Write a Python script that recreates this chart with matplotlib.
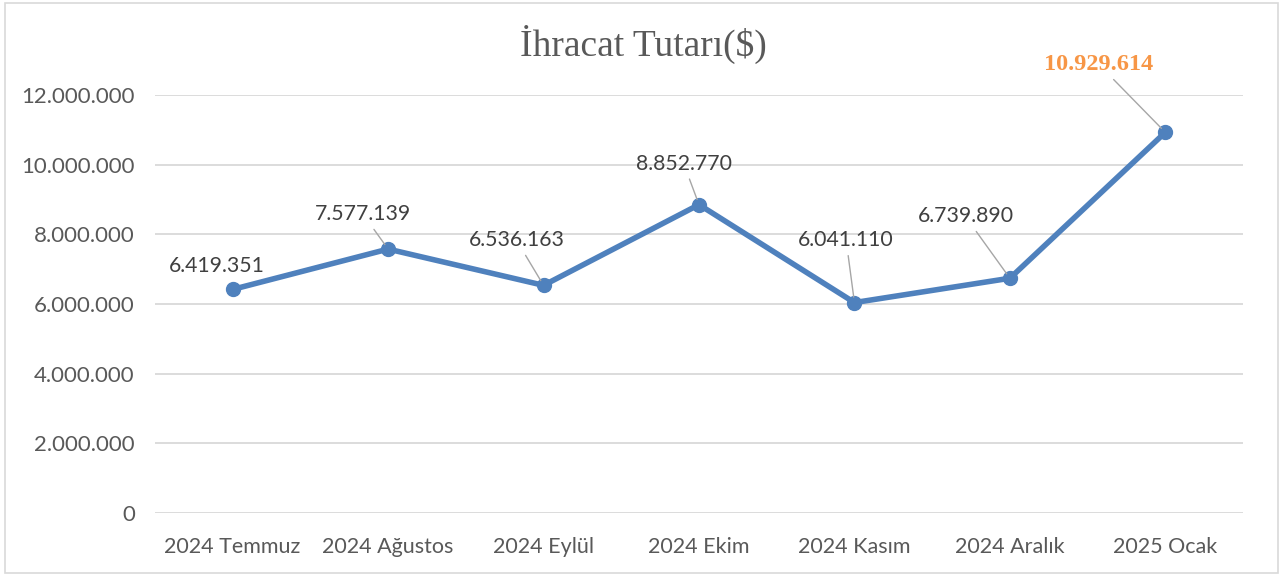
import matplotlib.pyplot as plt
from matplotlib.patches import Rectangle
from matplotlib.ticker import FuncFormatter

months = ['2024 Temmuz', '2024 Ağustos', '2024 Eylül', '2024 Ekim',
          '2024 Kasım', '2024 Aralık', '2025 Ocak']
values = [6419351, 7577139, 6536163, 8852770, 6041110, 6739890, 10929614]
yticks = [0, 2000000, 4000000, 6000000, 8000000, 10000000, 12000000]

# label centre offsets (points) relative to each marker
offsets = [(-11.5, 17), (-18, 25), (-19.5, 32.5), (-11, 29.5), (-6, 45), (-32, 44.5), (-48, 49)]


def dotted(v, pos=None):
    return f'{int(v):,}'.replace(',', '.')


fig = plt.figure(figsize=(12.86, 5.76), dpi=100)
ax = fig.add_axes([0.1205, 0.1094, 0.8461, 0.7256])

fig.patches.append(Rectangle((0.004, 0.005), 0.99, 0.99, transform=fig.transFigure,
                             fill=False, edgecolor='#d9d9d9', lw=1.2))

x = range(len(values))
ax.plot(x, values, color='#4f81bd', lw=4, marker='o', ms=10, zorder=3,
        solid_capstyle='round', solid_joinstyle='round')

for i, v in enumerate(values):
    last = i == len(values) - 1
    ax.annotate(dotted(v), xy=(i, v), xytext=offsets[i], textcoords='offset points',
                ha='center', va='center',
                fontsize=17.5 if last else 15.3,
                family='Liberation Serif' if last else 'Lato',
                fontweight='bold' if last else 'normal',
                color='#f79646' if last else '#404040',
                arrowprops=dict(arrowstyle='-', color='#a6a6a6', lw=1,
                                shrinkA=2, shrinkB=4) if i > 0 else None,
                zorder=4)

ax.set_xlim(-0.5, len(values) - 0.5)
ax.set_ylim(0, 12000000)
ax.set_yticks(yticks)
ax.yaxis.set_major_formatter(FuncFormatter(dotted))
ax.set_xticks(list(x))
ax.set_xticklabels(months)
ax.tick_params(length=0, colors='#595959')
ax.tick_params(axis='x', labelsize=15.5, pad=17)
ax.tick_params(axis='y', labelsize=16, pad=14.5)
for lab in ax.get_xticklabels() + ax.get_yticklabels():
    lab.set_family('Lato')

ax.grid(axis='y', color='#d9d9d9', lw=1.3)
ax.set_axisbelow(True)
for s in ax.spines.values():
    s.set_visible(False)

fig.text(0.5, 0.922, 'İhracat Tutarı($)', ha='center', va='center',
         family='Liberation Serif', fontsize=27, color='#595959')

fig.savefig('out.png', dpi=100)
